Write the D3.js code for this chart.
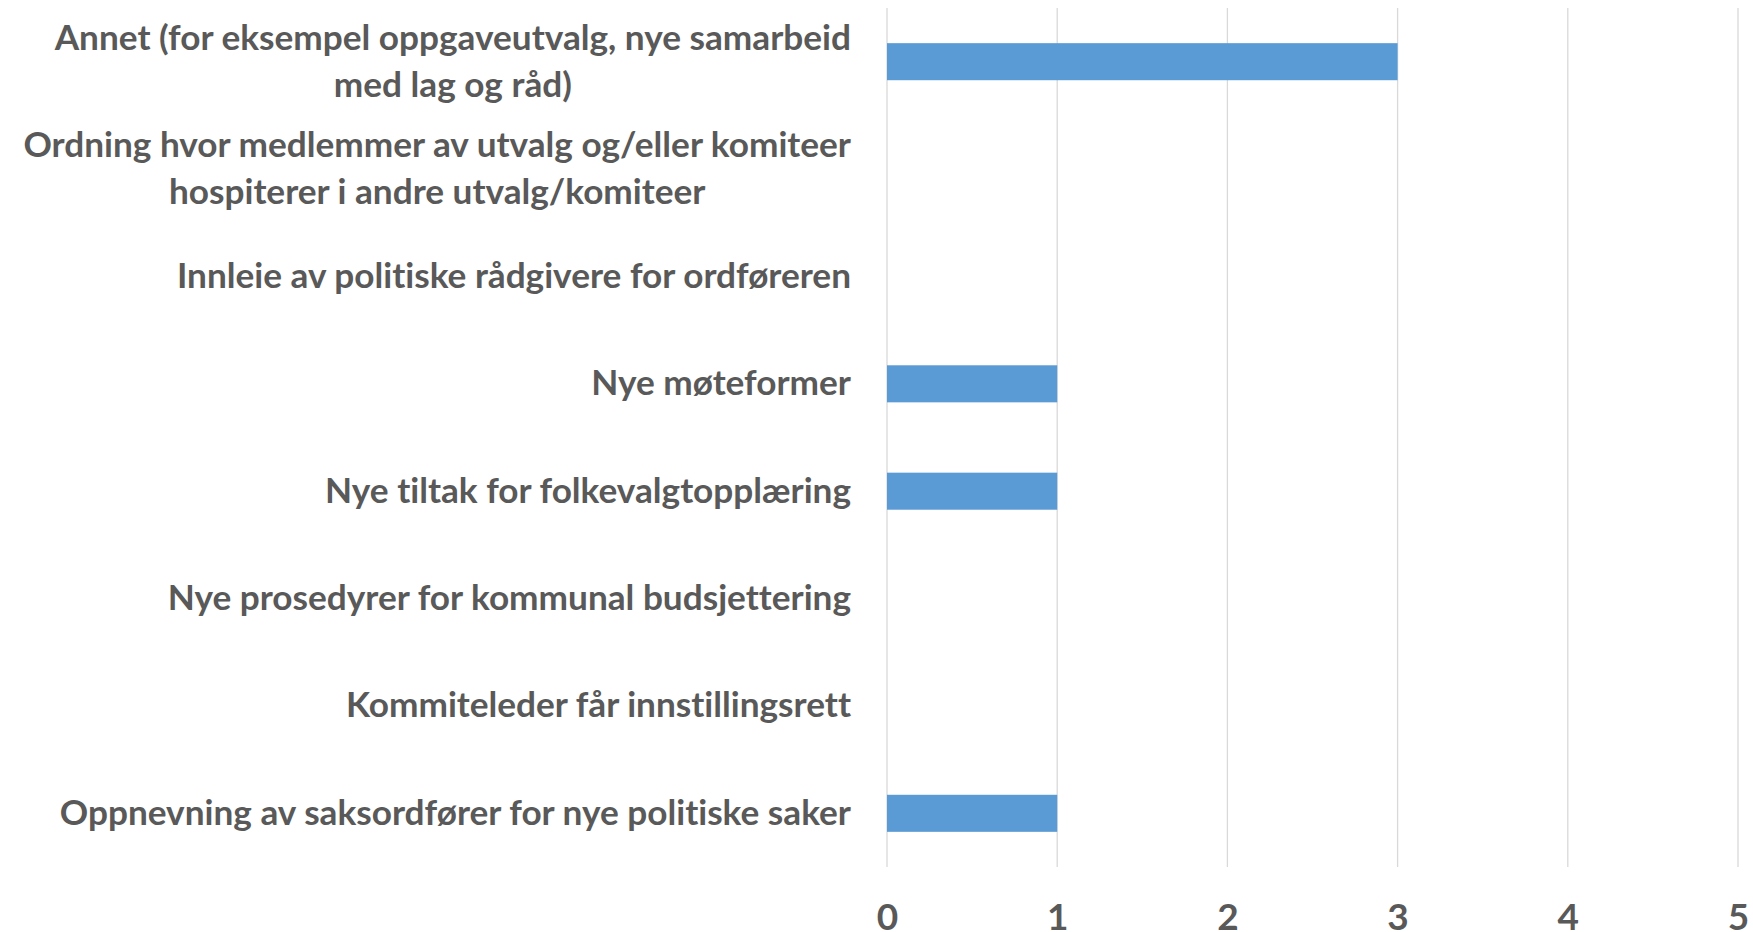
<!DOCTYPE html>
<head>
    <meta charset="utf-8">
    <script src="https://d3js.org/d3.v7.min.js"></script>
    <style>
        body { margin:0; background:#fff; }
        text { font-family: Lato, "Open Sans", sans-serif; font-weight: bold; fill: #595959; font-variant-ligatures: none; }
        .grid line { stroke: #d9d9d9; stroke-width: 1.3; }
        .bar { fill: #5b9bd5; }
    </style>
</head>

<body>
<script>
    var categories = [
        'Annet (for eksempel oppgaveutvalg, nye samarbeid|med lag og råd)',
        'Ordning hvor medlemmer av utvalg og/eller komiteer|hospiterer i andre utvalg/komiteer',
        'Innleie av politiske rådgivere for ordføreren',
        'Nye møteformer',
        'Nye tiltak for folkevalgtopplæring',
        'Nye prosedyrer for kommunal budsjettering',
        'Kommiteleder får innstillingsrett',
        'Oppnevning av saksordfører for nye politiske saker'
    ];
    var values = [3, 0, 0, 1, 1, 0, 0, 1];
    var ticks = [0, 1, 2, 3, 4, 5];

    var width = 1753, height = 932;
    var margin = { top: 8, right: 15, bottom: 65, left: 887 };
    var labelRight = 851;

    var svg = d3.select('body').append('svg')
        .attr('width', width)
        .attr('height', height);

    var x = d3.scaleLinear()
        .domain([0, 5])
        .range([margin.left, width - margin.right]);

    var y = d3.scaleBand()
        .domain(categories)
        .range([margin.top, height - margin.bottom])
        .paddingInner(0.655)
        .paddingOuter(0.3275);

    // gridlines
    svg.append('g').attr('class', 'grid')
        .selectAll('line')
        .data(ticks)
        .enter().append('line')
        .attr('x1', d => x(d)).attr('x2', d => x(d))
        .attr('y1', margin.top).attr('y2', height - margin.bottom);

    svg.selectAll('.bar')
        .data(values)
        .enter().append('rect')
        .attr('class', 'bar')
        .attr('x', x(0))
        .attr('y', (d, i) => y(categories[i]))
        .attr('width', d => x(d) - x(0))
        .attr('height', y.bandwidth());

    // x tick labels
    var xAxis = d3.axisBottom(x).tickValues(ticks).tickFormat(d3.format('d')).tickSize(0).tickPadding(0);
    var gx = svg.append('g')
        .attr('transform', 'translate(0,' + (height - margin.bottom) + ')')
        .call(xAxis);
    gx.select('.domain').remove();
    gx.selectAll('text')
        .attr('dy', null)
        .attr('y', 54)
        .attr('dominant-baseline', 'middle')
        .style('font-size', '37px')
        .attr('fill', '#595959');

    // category labels (multi-line ones are centred as a block, block right-aligned)
    var labels = svg.append('g').selectAll('text')
        .data(categories)
        .enter().append('text')
        .style('font-size', '35.2px');

    labels.each(function(d) {
        var lines = d.split('|');
        var t = d3.select(this);
        var cy = y(d) + y.bandwidth() / 2;
        var spans = lines.map((ln, j) => t.append('tspan')
            .attr('y', cy + (j - (lines.length - 1) / 2) * 47 - 1)
            .attr('dy', '0.35em')
            .text(ln));
        var w = d3.max(spans, s => s.node().getComputedTextLength());
        spans.forEach(s => s.attr('text-anchor', 'middle').attr('x', labelRight - w / 2));
    });
</script>
</body>
